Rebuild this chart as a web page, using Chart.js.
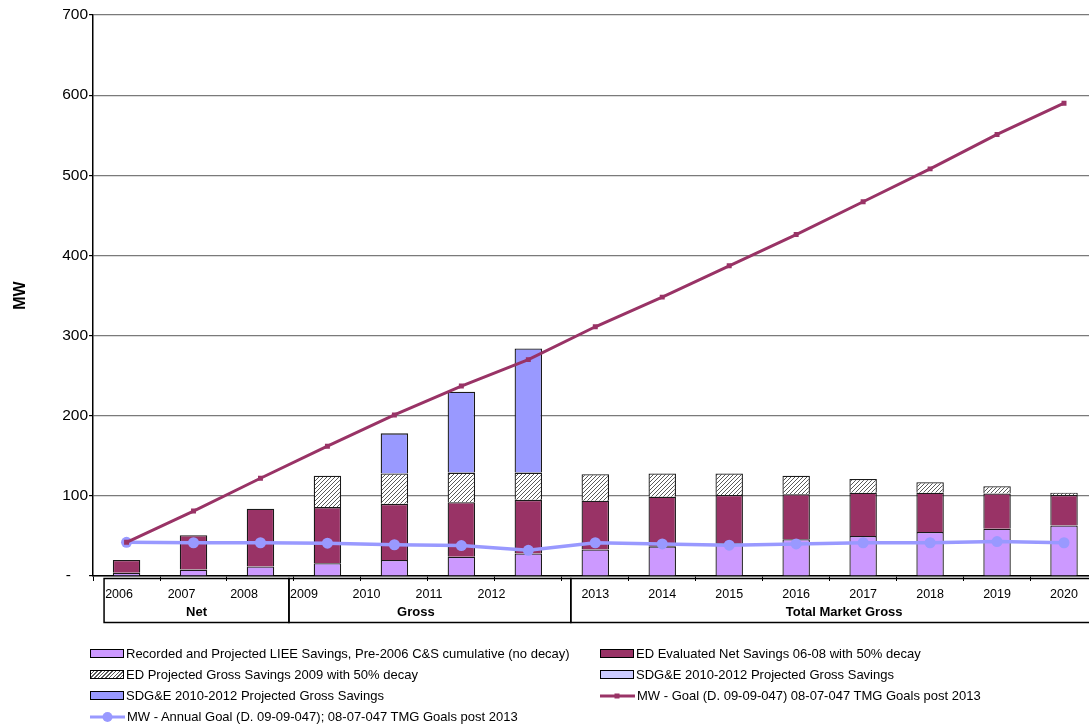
<!DOCTYPE html>
<html>
<head>
    <title>MW Savings vs Goals</title>
    <script src="https://cdn.jsdelivr.net/npm/chart.js@4.4.0/dist/chart.umd.min.js"></script>
    <style>
        body { margin: 0; background: #fff; font-family: 'Liberation Sans', Arial, sans-serif; }
        .wrap { position: relative; width: 1089px; height: 728px; overflow: hidden; }
        .legend {
            position: absolute; left: 90px; top: 643px;
            display: grid; grid-template-columns: 510px auto; grid-auto-rows: 21px;
            font-size: 13px; color: #000;
        }
        .legend .item { display: flex; align-items: center; white-space: nowrap; }
        .sw { width: 32px; height: 7px; border: 1.5px solid #000; margin-right: 2px; }
        .sw.line { border: none; width: 35px; height: 12px; }
    </style>
</head>
<body>
<div class="wrap">
    <!-- canvas is a bit wider than the page: the plot runs off the right edge like the original -->
    <canvas id="chart" width="1103" height="728"></canvas>
    <div class="legend" id="legend"></div>
</div>
<script>
    // categories and groups
    const years = ['2006','2007','2008','2009','2010','2011','2012','2013','2014','2015','2016','2017','2018','2019','2020'];
    const groups = [
        { label: 'Net', from: 0, to: 2 },
        { label: 'Gross', from: 3, to: 6 },
        { label: 'Total Market Gross', from: 7, to: 14 }
    ];
    const yTicks = [0, 100, 200, 300, 400, 500, 600, 700];

    // stacked bar series (MW)
    const lieeSavings   = [4, 8, 12, 16, 20, 24, 28, 33, 37, 41, 46, 50, 55, 59, 63];
    const edNetSavings  = [16, 43, 72, 70, 70, 68, 67, 61, 62, 60, 56, 54, 49, 44, 38];
    const edGross2009   = [null, null, null, 39, 38, 37, 34, 33, 29, 27, 23, 17, 13, 9, 3];
    const sdgeLight     = [null, null, null, null, null, null, null, null, null, null, null, null, null, null, null];
    const sdgeProjected = [null, null, null, null, 50, 101, 155, null, null, null, null, null, null, null, null];

    // line series (MW)
    const goalCumulative = [42, 81, 122, 162, 201, 237, 270, 311, 348, 387, 426, 467, 508, 551, 590];
    const goalAnnual     = [42, 41.5, 41.5, 41, 39, 38, 32, 41.5, 40, 38.5, 40, 41.5, 41.5, 43, 41.5];

    const FONT = "'Liberation Sans', Arial, sans-serif";

    // diagonal hatch for the 2009 gross savings
    function makeHatch() {
        const c = document.createElement('canvas');
        c.width = 4; c.height = 4;
        const g = c.getContext('2d');
        g.fillStyle = '#fff';
        g.fillRect(0, 0, 4, 4);
        g.strokeStyle = '#5a5a5a';
        g.lineWidth = 1;
        g.beginPath();
        g.moveTo(-1, 5); g.lineTo(5, -1);
        g.moveTo(-1, 1); g.lineTo(1, -1);
        g.moveTo(3, 5); g.lineTo(5, 3);
        g.stroke();
        return g.createPattern(c, 'repeat');
    }
    const hatch = makeHatch();

    // year labels + grouped boxes under the x axis (Excel-style multi-level axis)
    const groupAxis = {
        id: 'groupAxis',
        afterDraw(chart) {
            const ctx = chart.ctx;
            const x = chart.scales.x;
            const step = x.getPixelForValue(1) - x.getPixelForValue(0);
            const top = 578.5, bottom = 622.5;
            // box edges: shared dividers, nudged like the source
            const edges = [
                chart.chartArea.left + 11,
                x.getPixelForValue(groups[0].to) + step / 2 - 5,
                x.getPixelForValue(groups[1].to) + step / 2 + 9,
                x.getPixelForValue(groups[2].to) + step / 2 + 20
            ];
            ctx.save();
            ctx.fillStyle = '#000';
            ctx.strokeStyle = '#000';
            ctx.lineWidth = 1.5;
            ctx.textBaseline = 'middle';
            groups.forEach((g, gi) => {
                const left = edges[gi], right = edges[gi + 1];
                ctx.strokeRect(left, top, right - left, bottom - top);

                ctx.textAlign = 'center';
                ctx.font = '12.5px ' + FONT;
                for (let i = g.from; i <= g.to; i++) {
                    // the first two groups pack their labels to the left, as in the source
                    const lx = gi < 2 ? left + 15 + (i - g.from) * 62.5 : x.getPixelForValue(i);
                    ctx.fillText(years[i], lx, 595);
                }
                ctx.font = 'bold 13px ' + FONT;
                ctx.fillText(g.label, gi === 1 ? (left + right) / 2 - 14 : (left + right) / 2, 612);
            });
            ctx.restore();
        }
    };

    new Chart(document.getElementById('chart'), {
        data: {
            labels: years,
            datasets: [
                { type: 'line', label: 'MW - Goal (D. 09-09-047) 08-07-047 TMG Goals post 2013', data: goalCumulative,
                  borderColor: '#993366', backgroundColor: '#993366', borderWidth: 3, pointStyle: 'rect',
                  pointRadius: 3.5, pointBorderWidth: 0, order: 1, stack: 'goal' },
                { type: 'line', label: 'MW - Annual Goal (D. 09-09-047); 08-07-047 TMG Goals post 2013', data: goalAnnual,
                  borderColor: '#9999FF', backgroundColor: '#9999FF', borderWidth: 3.5, pointStyle: 'circle',
                  pointRadius: 5.5, pointBorderWidth: 0, order: 2, stack: 'annual' },
                { type: 'bar', label: 'Recorded and Projected LIEE Savings, Pre-2006 C&S cumulative (no decay)', data: lieeSavings,
                  backgroundColor: '#CC99FF', order: 3 },
                { type: 'bar', label: 'ED Evaluated Net Savings 06-08 with 50% decay', data: edNetSavings,
                  backgroundColor: '#993366', order: 4 },
                { type: 'bar', label: 'ED Projected Gross Savings 2009 with 50% decay', data: edGross2009,
                  backgroundColor: hatch, order: 5 },
                { type: 'bar', label: 'SDG&E 2010-2012 Projected Gross Savings', data: sdgeLight,
                  backgroundColor: '#CCCCFF', order: 6 },
                { type: 'bar', label: 'SDG&E 2010-2012 Projected Gross Savings', data: sdgeProjected,
                  backgroundColor: '#9999FF', order: 7 }
            ].map(d => d.type === 'bar'
                ? Object.assign({ borderColor: '#1a1a1a', borderWidth: 1.3, barPercentage: 0.41, categoryPercentage: 1, stack: 'savings' }, d)
                : d)
        },
        options: {
            responsive: false,
            animation: false,
            layout: { padding: { top: 15, left: 10, right: 0, bottom: 147 } },
            plugins: { legend: { display: false }, tooltip: { enabled: false } },
            scales: {
                x: {
                    stacked: true,
                    ticks: { display: false },
                    grid: { display: true, drawOnChartArea: false, offset: true, tickLength: 5, color: '#000', lineWidth: 1 },
                    border: { color: '#000', width: 1.5 }
                },
                y: {
                    stacked: true,
                    min: 0, max: 700,
                    afterBuildTicks: s => { s.ticks = yTicks.map(v => ({ value: v })); },
                    ticks: {
                        color: '#000', padding: 1,
                        font: { family: FONT, size: 15.5 },
                        callback: v => v === 0 ? '-    ' : String(v)
                    },
                    grid: { color: '#7a7a7a', lineWidth: 1.2, tickLength: 4, tickColor: '#000' },
                    border: { color: '#000', width: 1.5 },
                    title: {
                        display: true, text: 'MW', color: '#000',
                        font: { family: FONT, size: 16, weight: 'bold' },
                        padding: { top: 1, bottom: 31 }
                    }
                }
            }
        },
        plugins: [groupAxis]
    });

    // legend laid out in two columns like the original
    const legendItems = [
        { text: 'Recorded and Projected LIEE Savings, Pre-2006 C&S cumulative (no decay)', css: 'background:#CC99FF' },
        { text: 'ED Evaluated Net Savings 06-08 with 50% decay', css: 'background:#993366' },
        { text: 'ED Projected Gross Savings 2009 with 50% decay', css: 'background:repeating-linear-gradient(135deg,#fff 0 1.6px,#5a5a5a 1.6px 2.6px)' },
        { text: 'SDG&E 2010-2012 Projected Gross Savings', css: 'background:#CCCCFF' },
        { text: 'SDG&E 2010-2012 Projected Gross Savings', css: 'background:#9999FF' },
        { text: 'MW - Goal (D. 09-09-047) 08-07-047 TMG Goals post 2013', line: '#993366', marker: 'rect' },
        { text: 'MW - Annual Goal (D. 09-09-047); 08-07-047 TMG Goals post 2013', line: '#9999FF', marker: 'circle' }
    ];
    const legendEl = document.getElementById('legend');
    legendItems.forEach(it => {
        const row = document.createElement('div');
        row.className = 'item';
        let sw;
        if (it.line) {
            const m = it.marker === 'rect'
                ? `<rect x="14.5" y="3.5" width="5" height="5" fill="${it.line}"/>`
                : `<circle cx="17.5" cy="6" r="5" fill="${it.line}"/>`;
            sw = `<svg class="sw line" viewBox="0 0 35 12"><line x1="0" y1="6" x2="35" y2="6" stroke="${it.line}" stroke-width="3"/>${m}</svg>`;
        } else {
            sw = `<span class="sw" style="${it.css}"></span>`;
        }
        row.innerHTML = sw + '<span></span>';
        row.lastChild.textContent = it.text;
        legendEl.appendChild(row);
    });
</script>
</body>
</html>
